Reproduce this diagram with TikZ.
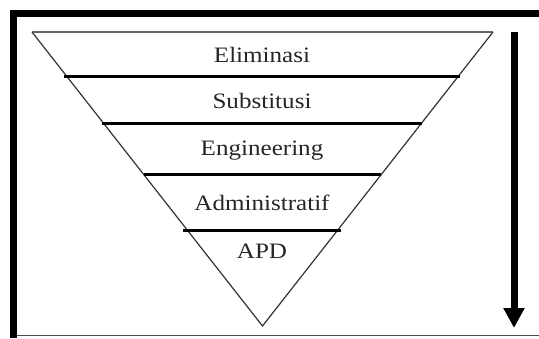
\documentclass[tikz,border=0pt]{standalone}
\usepackage{fontspec}
\setmainfont{Liberation Serif}
\usetikzlibrary{arrows.meta}
\newcommand{\widetext}[1]{\scalebox{1.14}[1]{#1}}
\begin{document}
\begin{tikzpicture}[x=1pt,y=-1pt,
  lvl/.style={font=\fontsize{22}{24}\selectfont, text=black!85, inner sep=0pt},
  band/.style={line width=3pt, black},
  edge/.style={line width=1.2pt, black!80}]
\useasboundingbox (0,0) rectangle (539,338);
% frame
\fill[black] (10,10) rectangle (539,17);
\fill[black] (10,10) rectangle (17,338);
\draw[line width=1pt, black!70] (17,335) -- (539,335);
% triangle
\coordinate (tl) at (32,32);
\coordinate (tr) at (493,32);
\coordinate (ap) at (262.5,326);
\draw[line width=1.2pt, black!60] (tl) -- (tr);
\draw[edge] (tr) -- (ap) -- (tl);
% bands
\coordinate (b1l) at (64,76); \coordinate (b1r) at (460,76);
\coordinate (b2l) at (102,123); \coordinate (b2r) at (422,123);
\coordinate (b3l) at (144,174); \coordinate (b3r) at (381,174);
\coordinate (b4l) at (183,230); \coordinate (b4r) at (341,230);
\draw[band] (b1l) -- (b1r);
\draw[band] (b2l) -- (b2r);
\draw[band] (b3l) -- (b3r);
\draw[band] (b4l) -- (b4r);
% labels
\node[lvl] (l1) at (262,55) {\widetext{Eliminasi}};
\node[lvl] (l2) at (262,101) {\widetext{Substitusi}};
\node[lvl] (l3) at (262,151) {\widetext{Engineering}};
\node[lvl] (l4) at (262,203) {\widetext{Administratif}};
\node[lvl] (l5) at (262,251) {\widetext{APD}};
% arrow
\coordinate (as) at (514,32);
\coordinate (ae) at (514,328);
\draw[line width=7pt, -{Triangle[length=20pt,width=20pt]}] (as) -- (ae);
\end{tikzpicture}
\end{document}
